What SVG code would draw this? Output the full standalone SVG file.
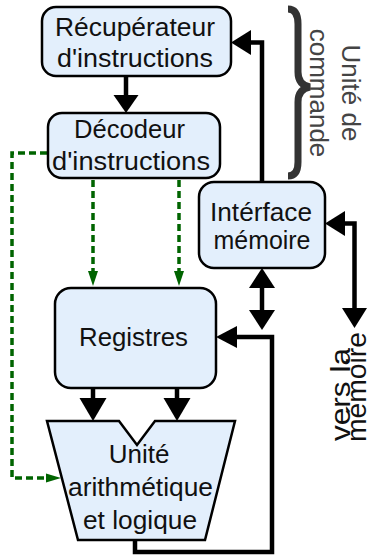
<svg xmlns="http://www.w3.org/2000/svg" width="371" height="555" viewBox="0 0 371 555">
<style>
.box{fill:#e3effc;stroke:#000;stroke-width:2.5}
.t{font-family:"Liberation Sans",Arial,sans-serif;font-size:26px;fill:#111;text-anchor:middle}
.g{font-family:"Liberation Sans",Arial,sans-serif;font-size:26px;fill:#444}
.w{fill:none;stroke:#000;stroke-width:4.5}
.d{fill:none;stroke:#006400;stroke-width:3.5;stroke-dasharray:7 4}
.ah{fill:#000}
.gh{fill:#006400}
</style>
<rect width="371" height="555" fill="#fff"/>
<g id="connectors">
  <!-- Récupérateur -> Décodeur -->
  <line class="w" x1="126" y1="76" x2="126" y2="96"/>
  <polygon class="ah" points="113.5,95 138.5,95 126,113"/>
  <!-- Interface -> Récupérateur -->
  <polyline class="w" points="262,182 262,42.5 249,42.5"/>
  <polygon class="ah" points="231,42.5 251,30 251,55"/>
  <!-- Interface <-> bus -->
  <line class="w" x1="262" y1="287" x2="262" y2="311"/>
  <polygon class="ah" points="262,268 249,288 275,288"/>
  <polygon class="ah" points="262,330 249,310 275,310"/>
  <!-- Interface <-> mémoire -->
  <polyline class="w" points="344,223.5 354.5,223.5 354.5,309"/>
  <polygon class="ah" points="325,223.5 345,211 345,236"/>
  <polygon class="ah" points="354.5,328 342,308 367,308"/>
  <!-- Registres -> ALU -->
  <line class="w" x1="93" y1="388" x2="93" y2="399"/>
  <polygon class="ah" points="79.5,398 106.5,398 93,421"/>
  <line class="w" x1="177" y1="388" x2="177" y2="399"/>
  <polygon class="ah" points="163.5,398 190.5,398 177,421"/>
  <!-- ALU -> Registres loop -->
  <polyline class="w" points="135,540 135,552 272,552 272,337 236,337"/>
  <polygon class="ah" points="216,337 237,326 237,348"/>
  <!-- green control lines -->
  <line class="d" x1="93" y1="180" x2="93" y2="272"/>
  <polygon class="gh" points="88,271 98,271 93,286"/>
  <line class="d" x1="179" y1="180" x2="179" y2="272"/>
  <polygon class="gh" points="174,271 184,271 179,286"/>
  <polyline class="d" points="47,153 12,153 12,478 47,478"/>
  <polygon class="gh" points="61,478 46,473.5 46,482.5"/>
</g>
<g id="recuperateur">
  <rect class="box" x="42" y="7" width="189" height="69" rx="14"/>
  <text class="t" x="135" y="36" textLength="160" lengthAdjust="spacingAndGlyphs">Récupérateur</text>
  <text class="t" x="135" y="67" textLength="156" lengthAdjust="spacingAndGlyphs">d'instructions</text>
</g>
<g id="decodeur">
  <rect class="box" x="48" y="113" width="172" height="65" rx="14"/>
  <text class="t" x="129.5" y="138" textLength="111" lengthAdjust="spacingAndGlyphs">Décodeur</text>
  <text class="t" x="131" y="170" textLength="158" lengthAdjust="spacingAndGlyphs">d'instructions</text>
</g>
<g id="interface">
  <rect class="box" x="199" y="182" width="126" height="86" rx="15"/>
  <text class="t" x="261" y="221" textLength="102" lengthAdjust="spacingAndGlyphs">Intérface</text>
  <text class="t" x="262" y="249" textLength="97" lengthAdjust="spacingAndGlyphs">mémoire</text>
</g>
<g id="registres">
  <rect class="box" x="55" y="288" width="161" height="100" rx="16"/>
  <text class="t" x="133.5" y="346" textLength="109" lengthAdjust="spacingAndGlyphs">Registres</text>
</g>
<g id="ual">
  <polygon class="box" points="47,421 119,421 137,445 155,421 235,421 205,540 78,540"/>
  <text class="t" x="139" y="463">Unité</text>
  <text class="t" x="140.5" y="496" textLength="145" lengthAdjust="spacingAndGlyphs">arithmétique</text>
  <text class="t" x="140" y="529" textLength="114" lengthAdjust="spacingAndGlyphs">et logique</text>
</g>
<g id="unite-commande">
  <path d="M288,9 Q298,9 298,24 L298,72 Q298,85 310,87 Q298,89 298,102 L298,162 Q298,176 288,176" fill="none" stroke="#333" stroke-width="7"/>
  <text class="g" text-anchor="middle" transform="translate(342,93) rotate(90)">Unité de</text>
  <text class="g" text-anchor="middle" transform="translate(310,93) rotate(90)">commande</text>
</g>
<g id="memoire">
  <text class="t" style="font-size:27px;text-anchor:start" transform="translate(350,441) rotate(-90)" textLength="93" lengthAdjust="spacingAndGlyphs">vers la</text>
  <text class="t" style="font-size:27px;text-anchor:start" transform="translate(366,442) rotate(-90)" textLength="110" lengthAdjust="spacingAndGlyphs">mémoire</text>
</g>
</svg>
